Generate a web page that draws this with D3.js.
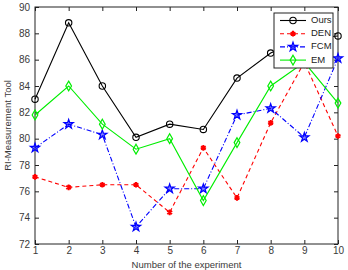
<!DOCTYPE html>
<html>
<head>
<meta charset="utf-8">
<script src="https://cdn.jsdelivr.net/npm/d3@7"></script>
<style>
  body { margin: 0; background: #fff; }
  text { font-family: "Liberation Sans", Arial, sans-serif; }
</style>
</head>
<body>
<script>
const width = 348;
const height = 270;

// data
const experiments = [1, 2, 3, 4, 5, 6, 7, 8, 9, 10];
const ours = [83.0, 88.8, 84.0, 80.1, 81.1, 80.7, 84.6, 86.5, 87.6, 87.8];
const den  = [77.1, 76.3, 76.5, 76.5, 74.4, 79.3, 75.5, 81.2, 85.8, 80.2];
const fcm  = [79.3, 81.1, 80.3, 73.3, 76.2, 76.2, 81.8, 82.3, 80.1, 86.1];
const em   = [81.8, 84.0, 81.1, 79.2, 80.0, 75.3, 79.7, 84.0, 85.8, 82.7];
const yTicks = [72, 74, 76, 78, 80, 82, 84, 86, 88, 90];

const series = [
  { name: "Ours", values: ours, color: "#000000", dash: null, symbol: "circle" },
  { name: "DEN", values: den, color: "#ff0000", dash: "4,3", symbol: "asterisk" },
  { name: "FCM", values: fcm, color: "#0000ff", dash: "5,2,1,2", symbol: "star" },
  { name: "EM", values: em, color: "#00ee00", dash: null, symbol: "diamond" }
];

const margin = { left: 35, right: 10, top: 7, bottom: 26 };

const svg = d3.select("body").append("svg")
  .attr("width", width)
  .attr("height", height);

const x = d3.scaleLinear().domain([1, 10]).range([margin.left, width - margin.right]);
const y = d3.scaleLinear().domain([72, 90]).range([height - margin.bottom, margin.top]);

// frame
svg.append("rect")
  .attr("x", x(1)).attr("y", y(90))
  .attr("width", x(10) - x(1)).attr("height", y(72) - y(90))
  .attr("fill", "none").attr("stroke", "#222").attr("stroke-width", 1);

// axes, ticks pointing inward
const xAxis = svg.append("g")
  .attr("transform", `translate(0,${y(72)})`)
  .call(d3.axisBottom(x).tickValues(experiments).tickFormat(d3.format("d")).tickSizeInner(-4).tickSizeOuter(0).tickPadding(7));
const xTop = svg.append("g")
  .attr("transform", `translate(0,${y(90)})`)
  .call(d3.axisTop(x).tickValues(experiments).tickSizeInner(-4).tickSizeOuter(0).tickFormat(""));
const yAxis = svg.append("g")
  .attr("transform", `translate(${x(1)},0)`)
  .call(d3.axisLeft(y).tickValues(yTicks).tickSizeInner(-4).tickSizeOuter(0).tickPadding(5));
const yRight = svg.append("g")
  .attr("transform", `translate(${x(10)},0)`)
  .call(d3.axisRight(y).tickValues(yTicks).tickSizeInner(-4).tickSizeOuter(0).tickFormat(""));

[xAxis, xTop, yAxis, yRight].forEach(g => {
  g.select(".domain").remove();
  g.selectAll("line").attr("stroke", "#222");
  g.selectAll("text").attr("font-size", "10px").attr("fill", "#3a3a3a")
    .attr("font-family", "'Liberation Sans', Arial, sans-serif");
});
// labels sit just under the axis line
xAxis.selectAll("text").attr("y", 3);

// axis titles
svg.append("text")
  .attr("x", (x(1) + x(10)) / 2)
  .attr("y", height - 2)
  .attr("text-anchor", "middle")
  .attr("font-size", "9.5px")
  .attr("fill", "#3a3a3a")
  .text("Number of the experiment");

svg.append("text")
  .attr("transform", `translate(11,${(y(72) + y(90)) / 2}) rotate(-90)`)
  .attr("text-anchor", "middle")
  .attr("font-size", "9.5px")
  .attr("fill", "#3a3a3a")
  .text("RI-Measurement Tool");

function marker(g, s, cx, cy) {
  if (s.symbol === "circle") {
    g.append("circle").attr("cx", cx).attr("cy", cy).attr("r", 3.2)
      .attr("fill", "none").attr("stroke", s.color).attr("stroke-width", 1.1);
  } else if (s.symbol === "asterisk") {
    g.append("path").attr("transform", `translate(${cx},${cy})`)
      .attr("d", d3.symbol(d3.symbolAsterisk, 22)())
      .attr("fill", "none").attr("stroke", s.color).attr("stroke-width", 2);
  } else if (s.symbol === "star") {
    g.append("path").attr("transform", `translate(${cx},${cy})`)
      .attr("d", d3.symbol(d3.symbolStar, 26)())
      .attr("fill", s.color).attr("fill-opacity", 0.5).attr("stroke", s.color).attr("stroke-width", 1.2);
  } else {
    g.append("path").attr("transform", `translate(${cx},${cy})`)
      .attr("d", d3.symbol(d3.symbolDiamond, 28)())
      .attr("fill", "none").attr("stroke", s.color).attr("stroke-width", 1.2);
  }
}

const line = d3.line().x((d, i) => x(experiments[i])).y(d => y(d));

series.forEach(s => {
  const g = svg.append("g");
  g.append("path")
    .datum(s.values)
    .attr("d", line)
    .attr("fill", "none")
    .attr("stroke", s.color)
    .attr("stroke-width", 1.1)
    .attr("stroke-dasharray", s.dash);
  s.values.forEach((v, i) => marker(g, s, x(experiments[i]), y(v)));
});

// legend
const legend = svg.append("g");
legend.append("rect")
  .attr("x", 274).attr("y", 13)
  .attr("width", 59).attr("height", 55)
  .attr("fill", "#fff").attr("stroke", "#222").attr("stroke-width", 1);

series.forEach((s, i) => {
  const ly = 20.5 + i * 13.2;
  legend.append("line")
    .attr("x1", 280).attr("x2", 306).attr("y1", ly).attr("y2", ly)
    .attr("stroke", s.color).attr("stroke-width", 1.1)
    .attr("stroke-dasharray", s.dash);
  marker(legend, s, 293, ly);
  legend.append("text")
    .attr("x", 311).attr("y", ly)
    .attr("dominant-baseline", "middle")
    .attr("font-size", "9.5px")
    .attr("fill", "#222")
    .text(s.name);
});
</script>
</body>
</html>
